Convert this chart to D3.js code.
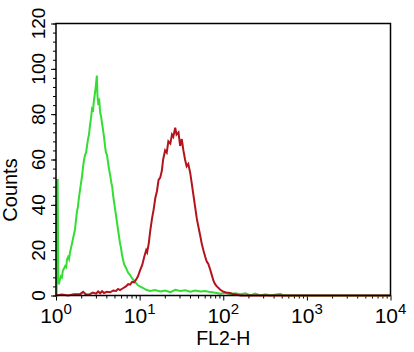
<!DOCTYPE html>
<html>
<head>
<meta charset="UTF-8">
<title>FL2-H histogram</title>
<script src="https://d3js.org/d3.v7.min.js"></script>
<style>
  body { margin: 0; background: #fff; }
  text { font-family: "Liberation Sans", Arial, sans-serif; fill: #000; }
</style>
</head>
<body>
<svg width="414" height="352"></svg>
<script>
// histograms: [channel (0-1023 over 4 log decades), count]
var greenHist = [[0,0],[2,0],[3,51],[5,51],[7,6],[9,5],[12,7],[15,8.5],[18,8],[21,11],[25,12],[28,13],[31,12.5],[34,16],[37,17],[40,16],[43,19],[46,21],[49,23],[52,25],[55,27],[58,29],[61,33],[64,37],[67,39],[70,43],[74,47],[77,50],[80,53],[83,57],[86,60],[89,62],[92,63],[95,66],[98,69],[101,71],[104,75],[107,78],[110,82],[113,81],[116,86],[120,90],[123,94],[125,97],[127,88],[130,84],[132,87],[135,81],[138,79],[141,76],[144,73],[147,70],[150,66],[153,63],[156,62],[159,59],[162,56],[166,53],[169,50],[172,48],[175,44],[178,41],[181,38],[184,35],[187,32],[190,29],[193,26],[196,23],[199,21],[202,18],[205,16],[208,14],[211,13],[215,12],[218,11],[221,10],[227,9],[233,7.5],[239,6.5],[245,5.5],[251,4.5],[257,4],[267,3.3],[276,2.5],[288,2],[303,2.4],[319,1.8],[334,2.2],[350,1.5],[365,2.5],[380,2],[396,2.3],[411,1.7],[426,2.2],[442,1.8],[457,2],[472,1.5],[488,1.2],[503,0.8],[518,1.2],[534,0.5],[549,1],[564,0.6],[580,1],[595,0],[610,0.8],[625,0],[641,0.5],[656,0],[687,0.8],[696,0],[1023,0]];
var redHist = [[0,0],[18,0.4],[37,0],[55,0.5],[74,0.6],[83,1.6],[92,0.4],[104,0.6],[113,1.3],[123,0.8],[129,1.8],[135,1],[141,1.9],[147,1.1],[156,1.6],[166,1.4],[175,2.2],[184,2],[190,2.9],[196,2.4],[205,3.2],[214,4],[221,5],[227,4.8],[233,6],[239,5.8],[245,7],[251,8.5],[257,11],[264,13.5],[270,17],[276,20],[279,19],[284,23],[288,28],[294,34],[299,38],[304,43],[309,46],[314,51],[319,52],[324,55],[328,60],[334,64],[339,63],[344,68],[350,67],[355,71],[359,70],[365,74],[369,71],[375,72],[380,66],[385,69],[390,64],[395,60],[400,57],[405,58],[411,54],[415,50],[421,44],[426,39],[431,34],[435,31],[442,26],[446,23],[452,19.5],[457,17],[462,14.8],[466,14],[472,11.5],[477,9],[482,6.5],[487,5],[493,3.9],[497,3.4],[503,2.5],[512,1.7],[521,1.3],[533,1.1],[543,0.7],[555,0.3],[564,0],[1023,0]];
var yTicks = [0, 20, 40, 60, 80, 100, 120];
var xDecades = [0, 1, 2, 3, 4];

var svg = d3.select("svg"),
    margin = {top: 23.5, right: 23.5, bottom: 56.5, left: 56},
    width = +svg.attr("width") - margin.left - margin.right,
    height = +svg.attr("height") - margin.top - margin.bottom,
    g = svg.append("g").attr("transform", "translate(" + margin.left + "," + margin.top + ")");

// channel -> FL2-H value
function fl2(ch) { return Math.pow(10, ch / 256); }

var x = d3.scaleLog().domain([1, 10000]).range([0, width]);
var y = d3.scaleLinear().domain([0, 120]).range([height, 0]);

// minor ticks
var xMinor = [];
xDecades.slice(0, 4).forEach(function(k) {
  for (var m = 2; m <= 9; m++) xMinor.push(m * Math.pow(10, k));
});
var yMinor = d3.range(0, 121, 4);

function tidy(sel) {
  sel.select(".domain").remove();
  sel.selectAll("line").attr("stroke", "#000").attr("stroke-width", 1);
}

g.append("g").attr("transform", "translate(0," + height + ")")
  .call(d3.axisBottom(x).tickValues(xMinor).tickSize(3).tickFormat("")).call(tidy);
g.append("g").attr("transform", "translate(0," + height + ")")
  .call(d3.axisBottom(x).tickValues(xDecades.map(function(k) { return Math.pow(10, k); })).tickSize(5).tickFormat("")).call(tidy);
g.append("g")
  .call(d3.axisLeft(y).tickValues(yMinor).tickSize(3).tickFormat("")).call(tidy);
g.append("g")
  .call(d3.axisLeft(y).tickValues(yTicks).tickSize(5).tickFormat("")).call(tidy);

// y tick labels, rotated
g.selectAll(".ylab").data(yTicks).enter().append("text")
  .attr("class", "ylab")
  .attr("transform", function(d) { return "translate(-11," + y(d) + ") rotate(-90)"; })
  .attr("text-anchor", "middle")
  .style("font-size", "19px")
  .text(function(d) { return d; });

// x tick labels 10^k
var xl = g.selectAll(".xlab").data(xDecades).enter().append("text")
  .attr("class", "xlab")
  .attr("x", function(k) { return x(Math.pow(10, k)); })
  .attr("y", height + 27.5)
  .attr("text-anchor", "middle")
  .style("font-size", "21px");
xl.append("tspan").text("10");
xl.append("tspan").attr("dy", -9).style("font-size", "15px").text(function(k) { return k; });

// axis titles
g.append("text")
  .attr("x", width / 2)
  .attr("y", height + 49)
  .attr("text-anchor", "middle")
  .style("font-size", "19.5px")
  .text("FL2-H");
g.append("text")
  .attr("transform", "translate(-39," + (190 - margin.top) + ") rotate(-90)")
  .attr("text-anchor", "middle")
  .style("font-size", "20px")
  .text("Counts");

var line = d3.line()
  .x(function(d) { return x(fl2(d[0])); })
  .y(function(d) { return y(d[1]); });

g.append("path").datum(greenHist)
  .attr("fill", "none").attr("stroke", "#33dd33").attr("stroke-width", 2)
  .attr("d", line);
g.append("path").datum(redHist)
  .attr("fill", "none").attr("stroke", "#b3141c").attr("stroke-width", 2)
  .attr("d", line);

// frame
g.append("rect")
  .attr("width", width).attr("height", height)
  .attr("fill", "none").attr("stroke", "#000").attr("stroke-width", 1.5);
</script>
</body>
</html>
